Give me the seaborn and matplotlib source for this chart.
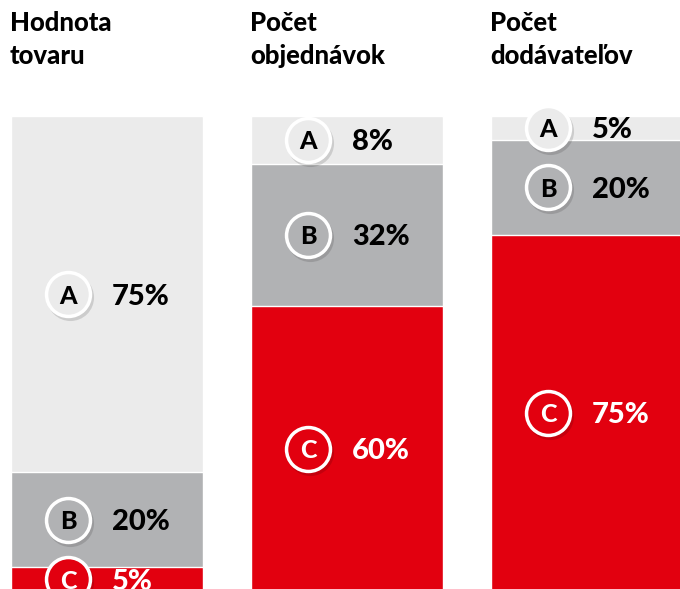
import numpy as np
import pandas as pd
import matplotlib
matplotlib.use("Agg")
import matplotlib.pyplot as plt
import matplotlib.transforms as mtransforms
import seaborn as sns

# Dáta grafu
kategorie = ["Hodnota\ntovaru", "Počet\nobjednávok", "Počet\ndodávateľov"]
skupiny = ["A", "B", "C"]
# výška segmentov tak, ako sú nakreslené
podiel_a = [75, 10, 5]
podiel_b = [20, 30, 20]
podiel_c = [5, 60, 75]
# popisky percent
popis_a = ["75%", "8%", "5%"]
popis_b = ["20%", "32%", "20%"]
popis_c = ["5%", "60%", "75%"]

farby = {"A": "#EBEBEB", "B": "#B1B2B4", "C": "#E2000F"}
farby_textu = {"A": "black", "B": "black", "C": "white"}

df = pd.DataFrame({"kategoria": kategorie, "A": podiel_a, "B": podiel_b, "C": podiel_c})
df["spolu_c"] = df["C"]
df["spolu_b"] = df["C"] + df["B"]
df["spolu_a"] = df["C"] + df["B"] + df["A"]

sns.set_style("white")
plt.rcParams["font.family"] = ["Lato", "DejaVu Sans"]

fig = plt.figure(figsize=(6.8, 5.89), dpi=100)
W, H = 680, 589
ax = fig.add_axes([11 / W, -2 / H, 672 / W, 475 / H])

# vrstvené stĺpce (zhora nadol)
sns.barplot(data=df, x="kategoria", y="spolu_a", color=farby["A"], width=0.8, ax=ax, saturation=1)
sns.barplot(data=df, x="kategoria", y="spolu_b", color=farby["B"], width=0.8, ax=ax, saturation=1)
sns.barplot(data=df, x="kategoria", y="spolu_c", color=farby["C"], width=0.8, ax=ax, saturation=1)

ax.set_xlim(-0.4, 2.4)
ax.set_ylim(0, 100)
ax.axis("off")

tien = mtransforms.offset_copy(ax.transData, fig=fig, x=2, y=-3, units="dots")

for i in range(len(kategorie)):
    dolne = {"C": 0, "B": podiel_c[i], "A": podiel_c[i] + podiel_b[i]}
    vysky = {"A": podiel_a[i], "B": podiel_b[i], "C": podiel_c[i]}
    popisy = {"A": popis_a[i], "B": popis_b[i], "C": popis_c[i]}
    for s in skupiny:
        yc = dolne[s] + vysky[s] / 2
        xc = i - 0.4 + 57 / 240
        ax.scatter([xc], [yc], s=1150, color="black", alpha=0.13, linewidths=0,
                   transform=tien, zorder=4, clip_on=False)
        ax.scatter([xc], [yc], s=1000, color=farby[s], edgecolors="white",
                   linewidths=2.5, zorder=5, clip_on=False)
        ax.text(xc, yc, s, ha="center", va="center_baseline", fontsize=18,
                fontweight=900, color=farby_textu[s], zorder=6)
        ax.text(i - 0.4 + 101 / 240, yc, popisy[s], ha="left", va="center_baseline",
                fontsize=21, fontweight=900, color=farby_textu[s], zorder=6)

# nadpisy nad stĺpcami
trans = mtransforms.blended_transform_factory(ax.transData, fig.transFigure)
for i, k in enumerate(kategorie):
    ax.text(i - 0.4 - 1 / 240, 1 - 11 / H, k, transform=trans, ha="left", va="top",
            fontsize=18.5, fontweight=900, linespacing=1.45, color="black")

fig.savefig("out.png", dpi=100)
